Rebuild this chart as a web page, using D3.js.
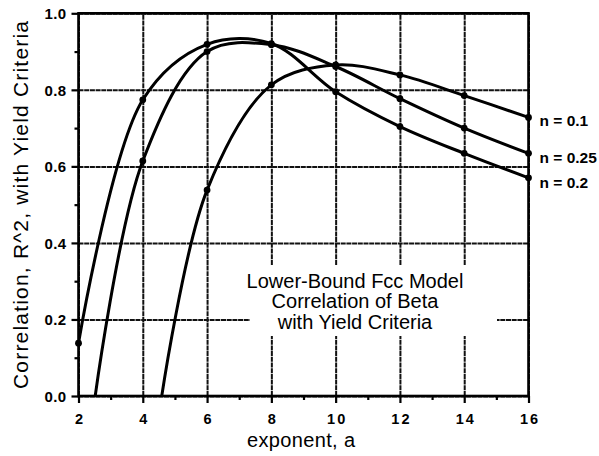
<!DOCTYPE html>
<html>
<head>
<meta charset="utf-8">
<script src="https://cdn.jsdelivr.net/npm/d3@7"></script>
<style>
  body { margin: 0; background: #fff; }
  text { font-family: "Liberation Sans", Arial, Helvetica, sans-serif; fill: #000; }
</style>
</head>
<body>
<script>
// Data
// ===============================
// exponent a, with correlation R^2 for each n
var xN02 = [2, 4, 6, 8, 10, 12, 14, 16];
var yN02 = [0.138, 0.774, 0.919, 0.921, 0.795, 0.704, 0.634, 0.570];

// n = 0.25 and n = 0.1 start where the curve crosses 0
var xN025 = [2.52, 4, 6, 8, 10, 12, 14, 16];
var yN025 = [0, 0.614, 0.900, 0.918, 0.861, 0.777, 0.700, 0.634];

var xN01 = [4.59, 6, 8, 10, 12, 14, 16];
var yN01 = [0, 0.538, 0.813, 0.865, 0.839, 0.785, 0.728];

var seriesLabels = ["n = 0.2", "n = 0.25", "n = 0.1"];

var xTicks = [2, 4, 6, 8, 10, 12, 14, 16];
var yTicks = [0, 0.2, 0.4, 0.6, 0.8, 1.0];

var noteLines = ["Lower-Bound Fcc Model", "Correlation of Beta", "with Yield Criteria"];

// Step 1: chart size
// ===============================
var svgWidth = 599;
var svgHeight = 456;

var margin = { top: 13.3, right: 70.5, bottom: 60, left: 78.5 };

var width = svgWidth - margin.left - margin.right;
var height = svgHeight - margin.top - margin.bottom;

var svg = d3.select("body")
  .append("svg")
  .attr("width", svgWidth)
  .attr("height", svgHeight);

var chartGroup = svg.append("g")
  .attr("transform", `translate(${margin.left}, ${margin.top})`);

// Step 2: scales
// ===============================
var xScale = d3.scaleLinear().domain([2, 16]).range([0, width]);
var yScale = d3.scaleLinear().domain([0, 1]).range([height, 0]);

// Step 3: grid lines (dotted)
// ===============================
var gridX = chartGroup.append("g")
  .attr("transform", `translate(0, ${height})`)
  .call(d3.axisBottom(xScale).tickValues(xTicks).tickSize(-height).tickFormat(""));

var gridY = chartGroup.append("g")
  .call(d3.axisLeft(yScale).tickValues(yTicks).tickSize(-width).tickFormat(""));

[gridX, gridY].forEach(function(g) {
  g.select(".domain").remove();
  g.selectAll("line")
    .attr("stroke", "#111")
    .attr("stroke-width", 2)
    .attr("stroke-dasharray", "5,0.7");
});

// white box behind the note, breaks the grid
chartGroup.append("rect")
  .attr("x", 250 - margin.left)
  .attr("y", 265 - margin.top)
  .attr("width", 247)
  .attr("height", 71)
  .attr("fill", "#fff");

noteLines.forEach(function(t, i) {
  chartGroup.append("text")
    .attr("x", 355 - margin.left)
    .attr("y", 288 - margin.top + i * 20.5)
    .attr("text-anchor", "middle")
    .attr("font-size", 20)
    .text(t);
});

// Step 4: axes
// ===============================
var bottomAxis = d3.axisBottom(xScale).tickValues(xTicks).tickSize(7).tickFormat(d3.format("d"));
var leftAxis = d3.axisLeft(yScale).tickValues(yTicks).tickSize(7).tickPadding(5).tickFormat(d3.format(".1f"));

var xAxisG = chartGroup.append("g")
  .attr("transform", `translate(0, ${height})`)
  .call(bottomAxis);

var yAxisG = chartGroup.append("g").call(leftAxis);

// minor ticks
var xMinor = chartGroup.append("g")
  .attr("transform", `translate(0, ${height})`)
  .call(d3.axisBottom(xScale).tickValues([3, 5, 7, 9, 11, 13, 15]).tickSize(4).tickFormat(""));

var yMinor = chartGroup.append("g")
  .call(d3.axisLeft(yScale).tickValues([0.1, 0.3, 0.5, 0.7, 0.9]).tickSize(4).tickFormat(""));

[xAxisG, yAxisG, xMinor, yMinor].forEach(function(g) {
  g.select(".domain").remove();
  g.selectAll("line").attr("stroke", "#000").attr("stroke-width", 2.2);
});

xAxisG.selectAll("text")
  .attr("y", 0)
  .attr("dy", 0)
  .attr("transform", `translate(1, ${424 - 396})`)
  .attr("font-size", 14.5)
  .attr("font-weight", "bold")
  .attr("letter-spacing", 2)
  .style("font-family", "'Liberation Sans', Arial, sans-serif");

yAxisG.selectAll("text")
  .attr("dy", "0.36em")
  .attr("font-size", 15)
  .attr("font-weight", "bold")
  .attr("letter-spacing", 0.4)
  .style("font-family", "'Liberation Sans', Arial, sans-serif");

// frame
chartGroup.append("rect")
  .attr("width", width)
  .attr("height", height)
  .attr("fill", "none")
  .attr("stroke", "#000")
  .attr("stroke-width", 2.6);

// Step 5: curves
// ===============================
svg.append("defs").append("clipPath")
  .attr("id", "plotClip")
  .append("rect")
  .attr("width", width)
  .attr("height", height + 1);

var series = [
  { xs: xN02, ys: yN02, label: seriesLabels[0], dy: 10.5 },
  { xs: xN025, ys: yN025, label: seriesLabels[1], dy: 9.3 },
  { xs: xN01, ys: yN01, label: seriesLabels[2], dy: 8.6 }
];

var line = d3.line()
  .x(d => xScale(d[0]))
  .y(d => yScale(d[1]))
  .curve(d3.curveCatmullRom.alpha(0.5));

series.forEach(function(s) {
  var pts = s.xs.map((x, i) => [x, s.ys[i]]);

  chartGroup.append("path")
    .attr("d", line(pts))
    .attr("clip-path", "url(#plotClip)")
    .attr("fill", "none")
    .attr("stroke", "#000")
    .attr("stroke-width", 3)
    .attr("stroke-linejoin", "round");

  chartGroup.selectAll(null)
    .data(pts.filter(p => p[0] % 2 === 0))
    .enter()
    .append("circle")
    .attr("cx", d => xScale(d[0]))
    .attr("cy", d => yScale(d[1]))
    .attr("r", 3.4)
    .attr("fill", "#000");

  var last = pts[pts.length - 1];
  chartGroup.append("text")
    .attr("x", xScale(last[0]) + 11)
    .attr("y", yScale(last[1]) + s.dy)
    .attr("font-size", 15.5)
    .attr("font-weight", "bold")
    .text(s.label);
});

// Step 6: axis titles
// ===============================
svg.append("text")
  .attr("x", 301)
  .attr("y", 447)
  .attr("text-anchor", "middle")
  .attr("font-size", 20)
  .attr("textLength", 108)
  .attr("lengthAdjust", "spacing")
  .text("exponent, a");

svg.append("text")
  .attr("transform", "translate(28, 205) rotate(-90)")
  .attr("text-anchor", "middle")
  .attr("font-size", 21)
  .attr("textLength", 368)
  .attr("lengthAdjust", "spacing")
  .text("Correlation, R^2, with Yield Criteria");
</script>
</body>
</html>
